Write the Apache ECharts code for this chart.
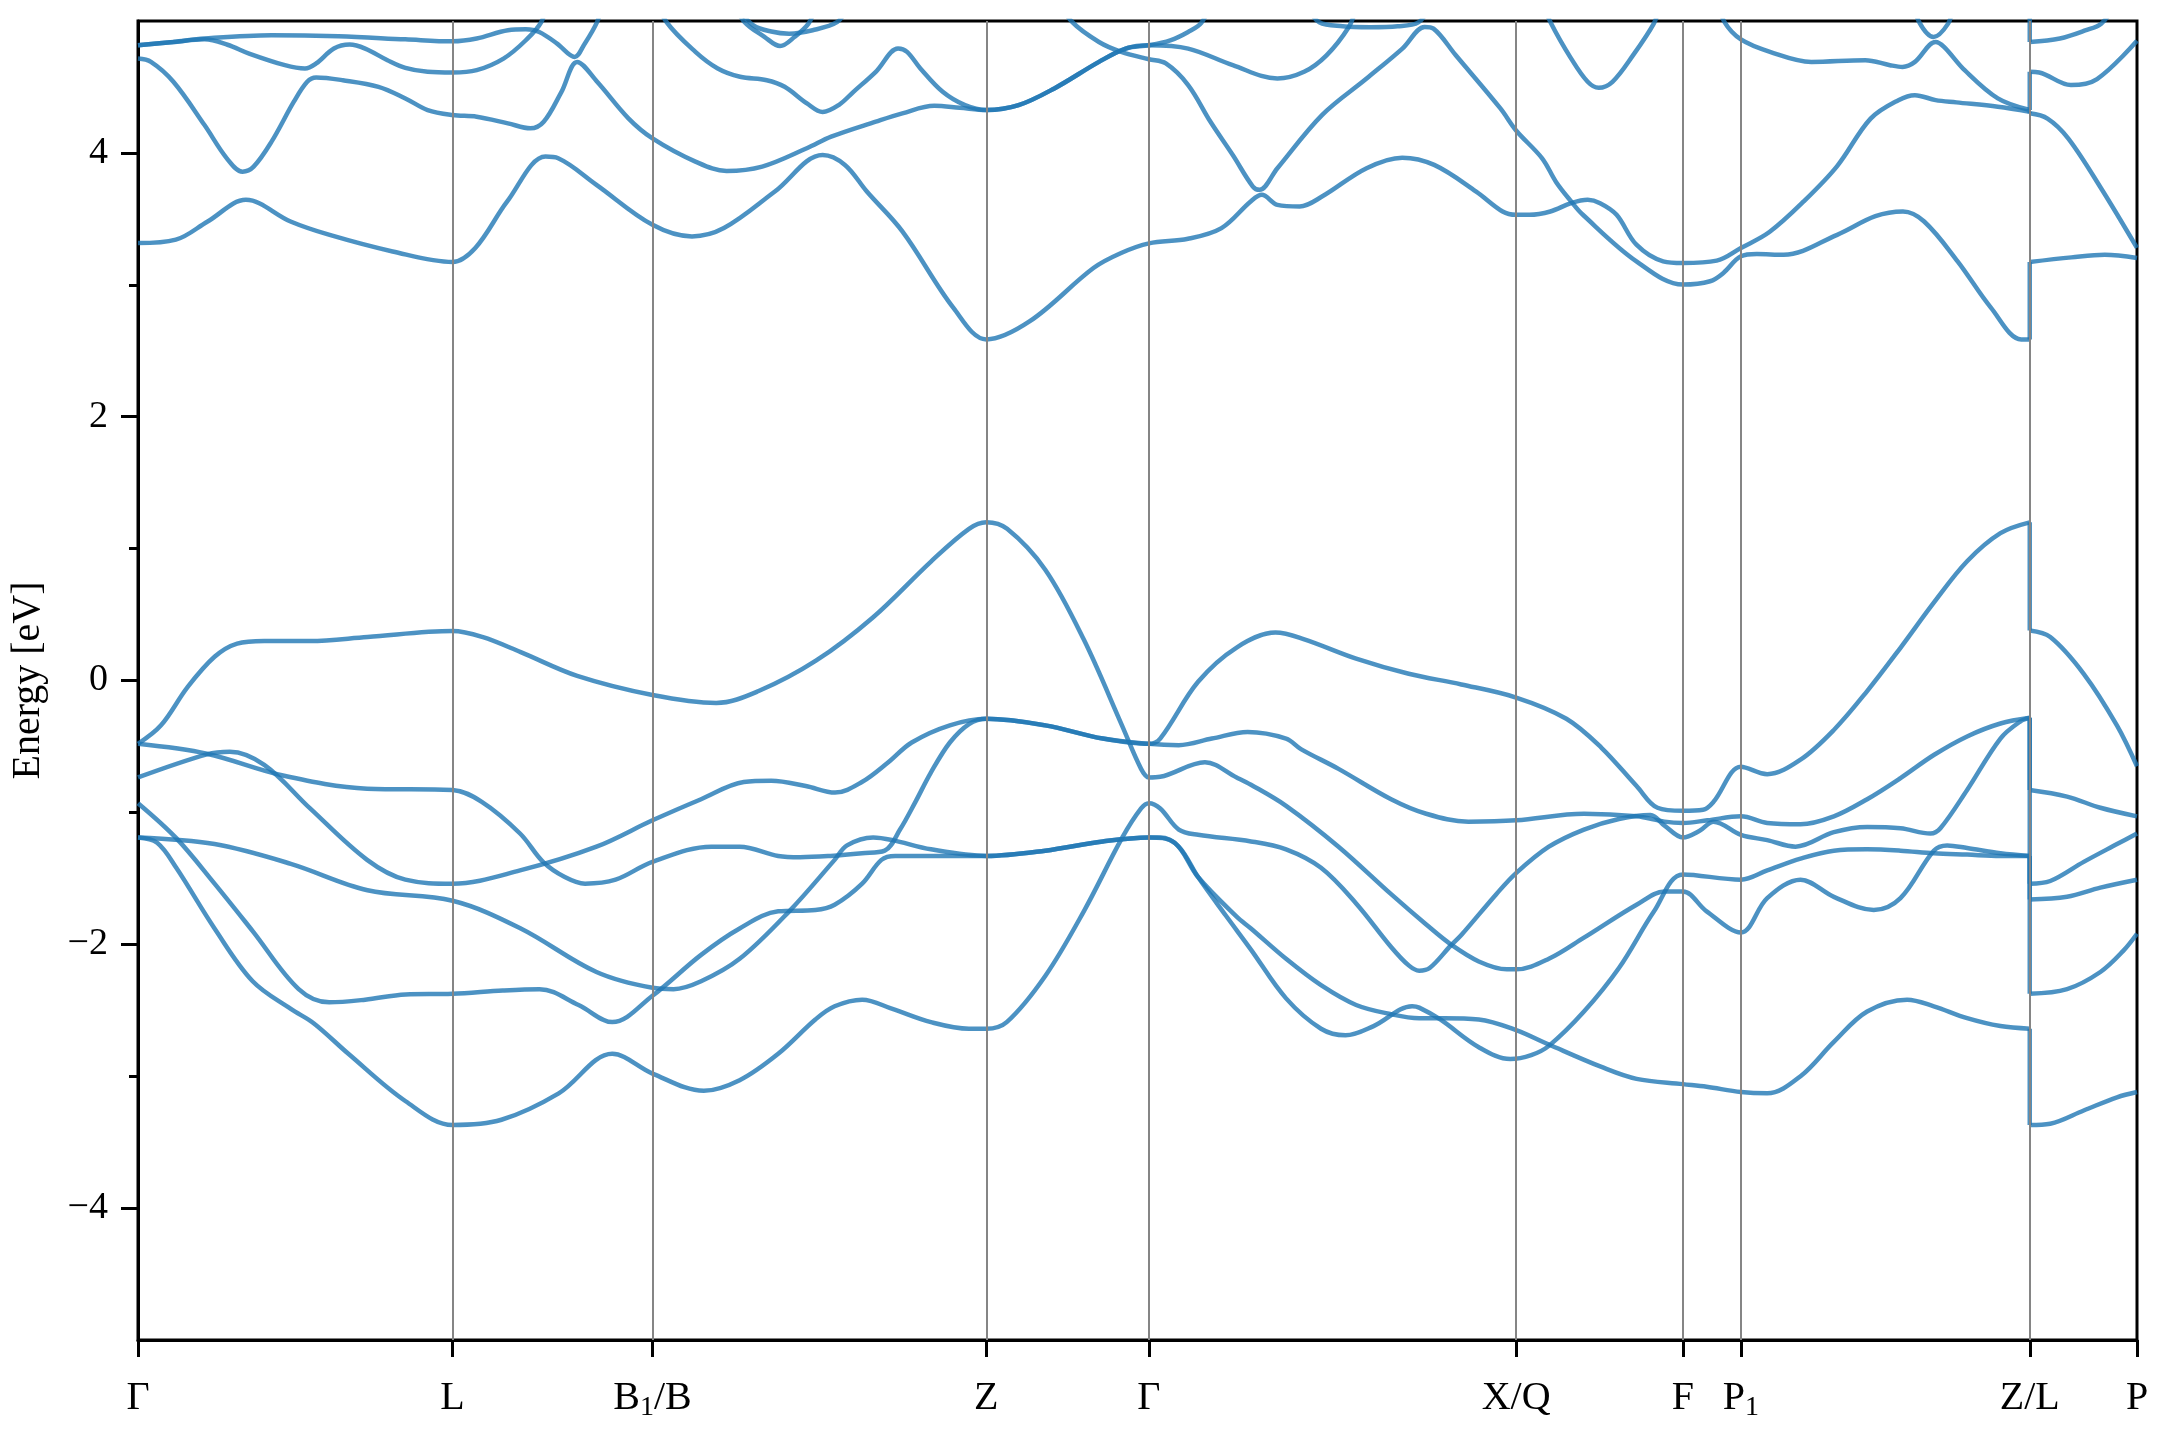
<!DOCTYPE html>
<html><head><meta charset="utf-8">
<script src="https://cdn.jsdelivr.net/npm/echarts@6/dist/echarts.min.js"></script>
<style>html,body{margin:0;padding:0;background:#fff}#c{width:2160px;height:1440px}</style>
</head><body><div id="c"></div>
<script>
// high-symmetry k positions and labels
const kPoints = [0, 228.5, 373.7, 616.2, 734.3, 1001, 1122.2, 1164.3, 1374.1, 1452];
const kLabels = ['Γ', 'L', 'B{s|1}/B', 'Z', 'Γ', 'X/Q', 'F', 'P{s|1}', 'Z/L', 'P'];
const yTicks = [-4, -2, 0, 2, 4];
const yMinorTicks = [-3, -1, 1, 3];

// valence bands [k, E(eV)]
const vb1 = [[0,-0.48],[16.7,-0.34],[36,-0.05],[55.6,0.18],[72,0.28],[91.7,0.30],[125,0.30],[166.7,0.33],[228.5,0.375],[250,0.33],[278,0.215],[319,0.035],[373.7,-0.11],[420,-0.17],[450.8,-0.08],[492.4,0.15],[534,0.48],[575.8,0.90],[603.6,1.15],[616.2,1.20],[631.3,1.15],[659,0.84],[687,0.31],[714.7,-0.34],[728.6,-0.67],[734.3,-0.735],[742.5,-0.73],[775,-0.62],[798,-0.735],[808.4,-0.79],[833.9,-0.95],[872,-1.26],[910.2,-1.62],[935.7,-1.85],[953.5,-2.00],[973.9,-2.13],[994.3,-2.19],[1001,-2.19],[1024.8,-2.11],[1050.3,-1.95],[1088.5,-1.70],[1108.8,-1.60],[1122.2,-1.60],[1139.4,-1.75],[1164.3,-1.91],[1183.4,-1.65],[1207.6,-1.51],[1231.8,-1.64],[1260.8,-1.74],[1280.2,-1.65],[1304.4,-1.29],[1314.1,-1.25],[1328.6,-1.27],[1352.8,-1.31],[1374.1,-1.33],[1374.1,-2.375],[1401.2,-2.34],[1425.4,-2.21],[1442,-2.05],[1452,-1.92]];
const vb2 = [[0,-0.48],[50,-0.555],[105.3,-0.72],[166.4,-0.82],[228.5,-0.83],[249.7,-0.92],[277.5,-1.16],[294.2,-1.375],[310,-1.49],[324.7,-1.54],[346.9,-1.51],[373.7,-1.375],[416.4,-1.26],[437,-1.26],[465,-1.33],[481,-1.34],[503,-1.33],[526,-1.31],[542.4,-1.29],[553.5,-1.13],[564.7,-0.92],[575.8,-0.70],[589.7,-0.47],[603.6,-0.33],[616.2,-0.29],[659,-0.34],[700.8,-0.44],[734.3,-0.48],[742.5,-0.44],[770,-0.01],[798,0.25],[826.2,0.363],[846.6,0.314],[884.8,0.166],[923,0.051],[961.2,-0.03],[1001,-0.129],[1037.5,-0.29],[1063,-0.51],[1088.5,-0.80],[1103.7,-0.965],[1122.2,-0.988],[1136.8,-0.98],[1144.4,-0.92],[1164.3,-0.654],[1183.4,-0.71],[1207.6,-0.60],[1231.8,-0.375],[1256,-0.08],[1280.2,0.248],[1304.4,0.59],[1328.6,0.904],[1352.8,1.117],[1374.1,1.199],[1374.1,0.379],[1389,0.33],[1413.3,0.051],[1437.5,-0.342],[1452,-0.65]];
const vb3 = [[0,-0.735],[50,-0.56],[66.7,-0.54],[91.7,-0.64],[125,-0.97],[166.4,-1.36],[194.2,-1.51],[228.5,-1.54],[277.5,-1.44],[333,-1.26],[373.7,-1.06],[409,-0.90],[440,-0.77],[460,-0.76],[485,-0.80],[506.3,-0.85],[525.8,-0.77],[545,-0.62],[562,-0.47],[589.7,-0.34],[616.2,-0.29],[659,-0.34],[700.8,-0.44],[734.3,-0.48],[756,-0.49],[780,-0.44],[806,-0.39],[833.9,-0.44],[844.7,-0.52],[872,-0.67],[910.2,-0.90],[935.7,-1.01],[966.3,-1.07],[1001,-1.06],[1050.3,-1.01],[1088.5,-1.03],[1108.8,-1.07],[1122.2,-1.08],[1140,-1.06],[1164.3,-1.03],[1183.4,-1.08],[1207.6,-1.09],[1231.8,-1.03],[1256,-0.90],[1280.2,-0.74],[1304.4,-0.565],[1328.6,-0.424],[1352.8,-0.326],[1374.1,-0.283],[1374.1,-0.83],[1401.2,-0.88],[1425.4,-0.965],[1452,-1.03]];
const vb4 = [[0,-0.93],[27.8,-1.195],[55.6,-1.54],[83.3,-1.90],[116.7,-2.34],[138.9,-2.44],[165,-2.42],[194.4,-2.38],[228.5,-2.375],[265,-2.35],[291.7,-2.34],[320,-2.46],[344.5,-2.59],[373.7,-2.39],[409,-2.08],[437,-1.88],[465,-1.75],[492,-1.74],[506,-1.70],[526,-1.54],[540,-1.36],[550,-1.33],[580,-1.33],[616.2,-1.33],[659,-1.29],[700.8,-1.22],[734.3,-1.19],[753,-1.23],[770,-1.49],[798,-1.79],[808.4,-1.88],[833.9,-2.11],[859.3,-2.31],[884.8,-2.46],[910.2,-2.53],[930.6,-2.56],[948.4,-2.56],[973.9,-2.57],[1001,-2.65],[1024.8,-2.76],[1063,-2.93],[1088.5,-3.02],[1122.2,-3.06],[1139.4,-3.08],[1164.3,-3.12],[1183.4,-3.13],[1207.6,-3.00],[1231.8,-2.74],[1256,-2.51],[1285,-2.42],[1304.4,-2.47],[1328.6,-2.56],[1352.8,-2.62],[1374.1,-2.64],[1374.1,-3.37],[1389,-3.36],[1413.3,-3.26],[1437.5,-3.16],[1452,-3.12]];
const vb5 = [[0,-1.19],[55.6,-1.24],[111,-1.39],[166.7,-1.59],[228.5,-1.67],[278,-1.88],[333,-2.21],[373.7,-2.33],[389,-2.34],[409,-2.28],[437,-2.11],[473,-1.75],[506,-1.36],[515,-1.25],[534,-1.19],[548,-1.21],[576,-1.28],[616.2,-1.33],[659,-1.29],[700.8,-1.22],[734.3,-1.19],[742.5,-1.19],[756,-1.26],[770,-1.49],[790,-1.78],[808.4,-2.04],[833.9,-2.41],[859.3,-2.64],[877.1,-2.69],[897.5,-2.62],[925.5,-2.47],[930.6,-2.48],[945.9,-2.57],[973.9,-2.78],[996.8,-2.87],[1012,-2.84],[1024.8,-2.77],[1050.3,-2.51],[1075.7,-2.18],[1101.2,-1.75],[1122.2,-1.47],[1164.3,-1.51],[1183.4,-1.44],[1207.6,-1.35],[1231.8,-1.29],[1256,-1.28],[1280.2,-1.29],[1304.4,-1.31],[1328.6,-1.32],[1352.8,-1.33],[1374.1,-1.33],[1374.1,-1.66],[1401.2,-1.64],[1425.4,-1.57],[1452,-1.51]];
const vb6 = [[0,-1.19],[13.9,-1.23],[27.8,-1.42],[55.6,-1.88],[83.3,-2.28],[111,-2.49],[127.8,-2.60],[152.8,-2.83],[194.4,-3.19],[228.5,-3.37],[264,-3.33],[305.6,-3.13],[344.5,-2.83],[373.7,-2.98],[411,-3.11],[437,-3.03],[465,-2.83],[492,-2.57],[506,-2.47],[526,-2.42],[548,-2.49],[576,-2.59],[603.6,-2.64],[616.2,-2.64],[631,-2.59],[659,-2.24],[687,-1.75],[715,-1.19],[728.6,-0.97],[734.3,-0.93],[742.5,-0.97],[756,-1.13],[770,-1.17],[808.4,-1.22],[833.9,-1.28],[859.3,-1.42],[884.8,-1.69],[910.2,-2.02],[923,-2.16],[930.6,-2.20],[938.2,-2.18],[953.5,-2.01],[961.2,-1.93],[986.6,-1.62],[1001,-1.46],[1024.8,-1.26],[1050.3,-1.13],[1075.7,-1.05],[1098.6,-1.02],[1108.8,-1.10],[1122.2,-1.19],[1134.3,-1.14],[1144.4,-1.07],[1164.3,-1.17],[1183.4,-1.21],[1204,-1.26],[1231.8,-1.15],[1256,-1.11],[1280.2,-1.12],[1302,-1.16],[1309.2,-1.12],[1328.6,-0.83],[1352.8,-0.44],[1367.3,-0.31],[1374.1,-0.283],[1374.1,-1.54],[1389,-1.52],[1413.3,-1.375],[1437.5,-1.24],[1452,-1.16]];

// conduction bands [k, E(eV)]
const cb1 = [[0,3.316],[27.5,3.342],[50.6,3.48],[78.4,3.644],[110.8,3.48],[138.6,3.38],[184.9,3.253],[228.5,3.173],[245,3.279],[268.2,3.632],[296,3.972],[305.2,3.959],[333,3.758],[373.7,3.455],[402.4,3.367],[425.6,3.43],[462.6,3.707],[497.3,3.984],[513.5,3.909],[529.4,3.707],[555.2,3.405],[592.3,2.825],[616.2,2.586],[647.8,2.724],[694,3.127],[714.1,3.241],[734.3,3.314],[762.7,3.349],[787,3.43],[808.2,3.632],[816.3,3.682],[827.6,3.606],[843.8,3.594],[860,3.669],[892.4,3.884],[918.3,3.964],[941.5,3.909],[972,3.707],[991.2,3.556],[1001,3.531],[1010.6,3.531],[1025.9,3.556],[1041,3.619],[1053,3.644],[1062,3.619],[1074,3.531],[1088.4,3.304],[1107.8,3.178],[1122.2,3.165],[1146.7,3.183],[1164.3,3.279],[1185,3.40],[1209.9,3.632],[1234.2,3.90],[1258.5,4.26],[1278.7,4.40],[1290.7,4.438],[1305.7,4.40],[1320.8,4.383],[1350.9,4.35],[1374.1,4.312],[1374.1,4.30],[1387,4.26],[1402,4.11],[1426,3.73],[1452,3.28]];
const cb2 = [[665,5.2],[678.5,4.993],[698,4.841],[714.2,4.766],[734.3,4.71],[746.6,4.678],[762.8,4.514],[779,4.236],[795.2,3.984],[809.8,3.745],[814.6,3.72],[827.6,3.884],[860,4.287],[892.4,4.564],[918.4,4.791],[934.6,4.955],[941,4.942],[957.2,4.74],[989.6,4.337],[1001,4.17],[1019.9,3.959],[1030,3.78],[1041,3.632],[1049.5,3.531],[1088.4,3.178],[1122.2,3.002],[1141.9,3.027],[1151.6,3.09],[1164.3,3.216],[1175.9,3.233],[1195.3,3.228],[1234.2,3.379],[1262,3.52],[1282,3.556],[1297.4,3.48],[1321.7,3.178],[1346,2.825],[1367.9,2.586],[1374.1,2.586],[1374.1,3.173],[1404.4,3.208],[1428.6,3.228],[1452,3.203]];
const cb3 = [[0,4.816],[25.7,4.841],[48.3,4.867],[97,4.892],[145.6,4.884],[194.2,4.861],[228.5,4.846],[246,4.867],[268.7,4.93],[281.7,4.937],[291.4,4.917],[304.4,4.829],[317.3,4.728],[323.8,4.816],[333.5,4.993],[338,5.15]];
const cb4 = [[0,4.816],[25.7,4.841],[48.3,4.861],[65,4.82],[80.7,4.753],[106.7,4.665],[121.3,4.64],[129.4,4.678],[142.3,4.791],[153.7,4.821],[165,4.791],[181.2,4.703],[194.2,4.645],[210.4,4.615],[228.5,4.609],[246,4.627],[265.5,4.715],[281.7,4.854],[293,4.993],[297,5.15]];
const cb5 = [[0,4.715],[9.4,4.69],[25.7,4.539],[48.3,4.211],[64.5,3.959],[75.9,3.858],[84,3.896],[97,4.085],[113.2,4.388],[122.9,4.539],[129.4,4.572],[148.8,4.551],[174.7,4.501],[194.2,4.413],[210.4,4.325],[228.5,4.287],[246,4.274],[268.7,4.224],[285,4.186],[294.7,4.236],[307.6,4.463],[319,4.69],[333.5,4.539],[356.2,4.262],[373.7,4.11],[404.9,3.934],[427.5,3.863],[453.4,3.896],[485.8,4.035],[503.5,4.123],[535.9,4.237],[555.2,4.30],[578.4,4.357],[596.9,4.342],[616.2,4.325],[639.6,4.362],[665.6,4.489],[698,4.69],[717.4,4.791],[734.3,4.816],[762.8,4.791],[795.2,4.665],[827.6,4.564],[847,4.615],[863.3,4.74],[879.5,4.955],[885,5.1]];
const cb6 = [[375,5.2],[383.8,4.993],[404.9,4.766],[421.1,4.64],[437.3,4.577],[456.7,4.551],[469.7,4.501],[485.9,4.375],[497.3,4.31],[509,4.363],[519.7,4.463],[535.9,4.615],[552.1,4.791],[558.6,4.766],[568.3,4.64],[584.5,4.463],[600.7,4.362],[616.2,4.325],[639.6,4.362],[665.6,4.489],[698,4.69],[717.4,4.791],[734.3,4.816],[749.8,4.854],[762.8,4.917],[772.5,4.988],[780,5.15]];
const cb7 = [[432,5.15],[440.5,4.993],[455,4.88],[466.4,4.81],[477,4.88],[487,4.98],[492,5.1]];
const cb8 = [[435,5.1],[447,4.967],[460,4.92],[473,4.904],[490,4.93],[508,4.993],[515,5.1]];
const cb9 = [[850,5.1],[858,4.99],[875,4.96],[895,4.953],[915,4.96],[930,4.99],[938,5.1]];
const cb10 = [[1020,5.15],[1025.9,4.993],[1041,4.715],[1053,4.539],[1061,4.494],[1071,4.539],[1086,4.741],[1101,4.98],[1105,5.1]];
const cb11 = [[1148,5.15],[1152.3,4.993],[1164.3,4.86],[1185.4,4.766],[1215.5,4.69],[1254.6,4.703],[1272.6,4.665],[1281.7,4.652],[1290.7,4.69],[1305.7,4.841],[1311.8,4.804],[1326.8,4.627],[1350.9,4.413],[1374.1,4.325],[1374.1,4.615],[1381,4.61],[1404,4.514],[1423,4.56],[1452,4.85]];
const cb12 = [[1290,5.15],[1293.7,4.993],[1304.2,4.879],[1314.8,4.98],[1318,5.1]];
const cb13 = [[1365,5.2],[1374.1,5.05],[1374.1,4.841],[1396,4.867],[1415,4.93],[1426,4.98],[1435,5.1]];

const bands = [vb1, vb2, vb3, vb4, vb5, vb6, cb1, cb2, cb3, cb4, cb5, cb6, cb7, cb8, cb9, cb10, cb11, cb12, cb13];

const FONT = "'Liberation Serif', 'Times New Roman', serif";
const LINE = 'rgba(31,119,180,0.8)';

function splitBand(arr) {
  const out = []; let start = 0;
  for (let i = 0; i < arr.length - 1; i++) {
    if (arr[i][0] === arr[i + 1][0]) {
      out.push({ d: arr.slice(start, i + 1), smooth: true });
      out.push({ d: [arr[i], arr[i + 1]], smooth: false });
      start = i + 1;
    }
  }
  out.push({ d: arr.slice(start), smooth: true });
  return out;
}

const series = [{
  type: 'line', data: [], z: 1, silent: true,
  markLine: {
    silent: true, symbol: ['none', 'none'], animation: false,
    label: { show: false },
    lineStyle: { color: '#858585', width: 2, type: 'solid' },
    data: kPoints.slice(1, -1).map(k => ({ xAxis: k }))
  }
}];
bands.forEach(b => splitBand(b).forEach(p => {
  if (p.d.length < 2) return;
  series.push({
    type: 'line', data: p.d, smooth: p.smooth ? 0.35 : false,
    showSymbol: false, symbol: 'none', clip: true, silent: true, z: 3,
    lineStyle: { color: LINE, width: 4.5 }
  });
}));

const chart = echarts.init(document.getElementById('c'), null, { renderer: 'canvas', width: 2160, height: 1440 });
chart.setOption({
  animation: false,
  backgroundColor: '#fff',
  grid: { left: 136, right: 23, top: 21, bottom: 100, show: true, borderColor: '#000', borderWidth: 3 },
  xAxis: {
    type: 'value', min: 0, max: 1452,
    splitLine: { show: false },
    axisLine: { show: true, onZero: false, lineStyle: { color: '#000', width: 3 } },
    axisTick: { show: true, customValues: kPoints, length: 17, lineStyle: { color: '#000', width: 3 } },
    axisLabel: {
      show: true, customValues: kPoints, showMinLabel: true, showMaxLabel: true,
      margin: 34, color: '#000', fontFamily: FONT, fontSize: 40, lineHeight: 48,
      formatter: v => { const i = kPoints.indexOf(v); return i >= 0 ? kLabels[i] : ''; },
      rich: { s: { fontSize: 28, fontFamily: FONT, color: '#000', verticalAlign: 'bottom', lineHeight: 22 } }
    }
  },
  yAxis: [{
    type: 'value', min: -5, max: 5, position: 'left',
    splitLine: { show: false },
    axisLine: { show: true, onZero: false, lineStyle: { color: '#000', width: 3 } },
    axisTick: { show: true, customValues: yTicks, length: 17, lineStyle: { color: '#000', width: 3 } },
    axisLabel: { customValues: yTicks, margin: 30, color: '#000', fontFamily: FONT, fontSize: 38,
      formatter: v => (v < 0 ? '\u2212' + (-v) : String(v)) },
    name: 'Energy [eV]', nameLocation: 'middle', nameGap: 90,
    nameTextStyle: { fontFamily: FONT, fontSize: 40, color: '#000' }
  }, {
    type: 'value', min: -5, max: 5, position: 'left', offset: 0,
    splitLine: { show: false },
    axisLine: { show: false },
    axisTick: { show: true, customValues: yMinorTicks, length: 9, lineStyle: { color: '#000', width: 3 } },
    axisLabel: { show: false }
  }],
  series: series
});
</script>
</body></html>
